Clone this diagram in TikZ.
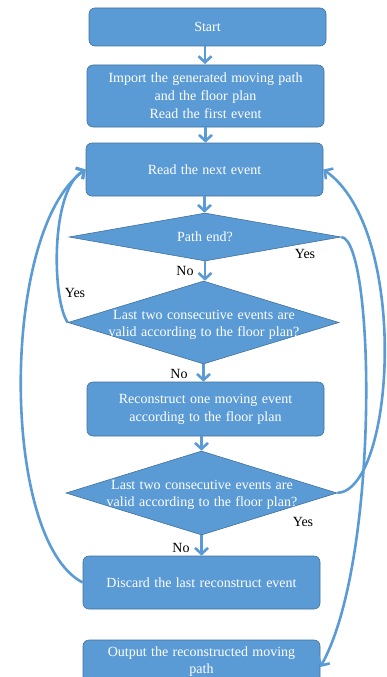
\documentclass[tikz,border=0pt]{standalone}
\usepackage{fontspec}
\setmainfont[WordSpace={1.25,1,1}]{Liberation Serif}
\usetikzlibrary{shapes.geometric,arrows.meta}
\definecolor{boxblue}{HTML}{5B9BD5}
\definecolor{boxedge}{HTML}{41719C}
\begin{document}
\begin{tikzpicture}[x=1pt,y=-1pt,
  box/.style={draw=boxedge, line width=0.6pt, fill=boxblue, rounded corners=6pt,
    minimum width=237pt, text=white, align=center, inner sep=0pt,
    font=\fontsize{14}{18}\selectfont},
  dia/.style={draw=boxedge, line width=0.6pt, fill=boxblue, diamond, inner sep=0pt},
  wtext/.style={text=white, align=center, inner sep=0pt, font=\fontsize{14}{17}\selectfont},
  lbl/.style={text=black, inner sep=0pt, font=\fontsize{14}{16}\selectfont},
  arr/.style={draw=boxblue, line width=2.6pt, -{Straight Barb[length=6pt,width=13pt]}}]
\useasboundingbox (0,0) rectangle (386,677);
\node[box, minimum height=38pt] (start) at (207.5,27) {Start};
\node[box, minimum height=62pt] (import) at (205.5,96) {Import the generated moving path\\and the floor plan\\Read the first event};
\node[box, minimum height=53pt] (read) at (204.5,169.5) {Read the next event};
\node[dia, minimum width=272pt, minimum height=48pt] (d1) at (205,237) {};
\node[wtext] (d1t) at (d1) {Path end?};
\node[dia, minimum width=271pt, minimum height=83pt] (d2) at (203.5,322.5) {};
\node[wtext] (d2t) at (204,325) {Last two consecutive events are\\valid according to the floor plan?};
\node[box, minimum height=54pt] (recon) at (205.5,409) {Reconstruct one moving event\\according to the floor plan};
\node[dia, minimum width=271pt, minimum height=84pt] (d3) at (201.5,493) {};
\node[wtext] (d3t) at (202,495) {Last two consecutive events are\\valid according to the floor plan?};
\node[box, minimum height=53pt] (discard) at (201.5,582.5) {Discard the last reconstruct event};
\node[box, minimum height=54pt] (output) at (201.5,667) {};
\node[wtext] (outt) at (201.5,661.5) {Output the reconstructed moving\\path};

\draw[arr] (205,46) -- (205,64);
\draw[arr] (import.south) -- (import.south |- read.north);
\draw[arr] (read.south) -- (read.south |- d1.north);
\draw[arr] (d1.south) -- (d1.south |- d2.north);
\draw[arr] (d2.south) -- (d2.south |- recon.north);
\draw[arr] (recon.south -| d3) -- (d3.north);
\draw[arr] (d3.south) -- (d3.south |- discard.north);

\draw[arr] (d2.west) .. controls (52,300) and (50,190) .. (read.west);
\draw[arr] (discard.west) .. controls (0,540) and (0,230) .. (read.west);
\draw[arr] (d1.east) .. controls (375,240) and (380,560) .. (output.east);
\draw[arr] (d3.east) .. controls (395,490) and (410,230) .. (read.east);

\node[lbl] (no1) at (185,271) {No};
\node[lbl] (no2) at (179,374) {No};
\node[lbl] (no3) at (181,548) {No};
\node[lbl] (yes1) at (75,293) {Yes};
\node[lbl] (yes2) at (305,254) {Yes};
\node[lbl] (yes3) at (303,522) {Yes};
\end{tikzpicture}
\end{document}
